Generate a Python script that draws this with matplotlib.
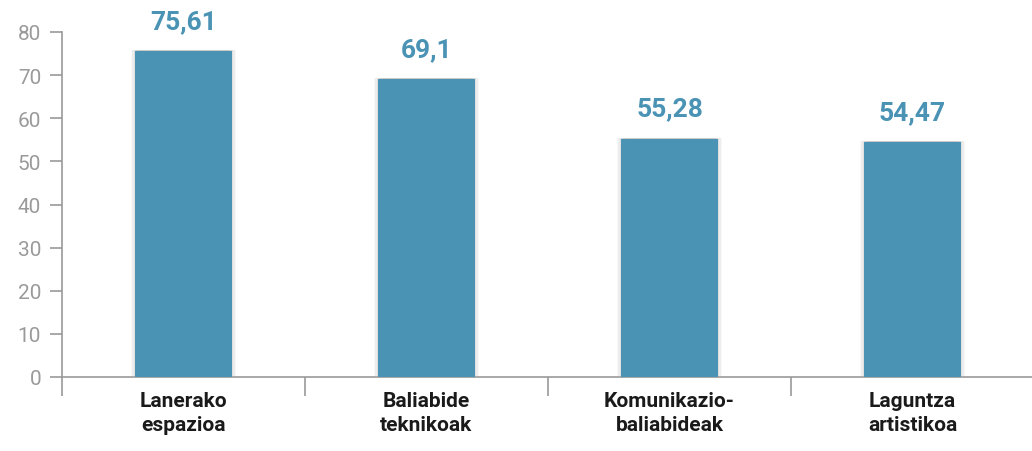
import matplotlib
matplotlib.use("Agg")
import matplotlib.pyplot as plt
from matplotlib import patheffects as pe

categories = ["Lanerako\nespazioa", "Baliabide\nteknikoak", "Komunikazio-\nbaliabideak", "Laguntza\nartistikoa"]
values = [75.61, 69.1, 55.28, 54.47]
value_labels = ["75,61", "69,1", "55,28", "54,47"]
yticks = [0, 10, 20, 30, 40, 50, 60, 70, 80]

fig = plt.figure(figsize=(10.32, 4.52), dpi=100)
ax = fig.add_axes([62/1032, 1-378/452, 972/1032, (378-33)/452])

bar_color = "#4a93b4"
bars = ax.bar(range(len(values)), values, width=0.4, color=bar_color, zorder=3)
shadow = []
for dx, a in [(-3, 0.05), (3, 0.05), (-1.8, 0.08), (1.8, 0.08), (-0.8, 0.1), (0.8, 0.1)]:
    shadow.append(pe.SimplePatchShadow(offset=(dx, 0.5), shadow_rgbFace="#777777", alpha=a))
for b in bars:
    b.set_path_effects(shadow + [pe.Normal()])

for i, (v, lab) in enumerate(zip(values, value_labels)):
    ax.annotate(lab, (i, v), xytext=(0, 13), textcoords="offset points", ha="center", va="bottom",
                fontsize=19, fontweight="bold", color="#4a93b4", family=["Roboto", "DejaVu Sans"])

ax.set_xlim(-0.5, len(values) - 0.5)
ax.set_ylim(0, 80)
ax.set_yticks(yticks)
ax.set_yticklabels([str(t) for t in yticks], fontsize=15, color="#9a9a9a",
                   family=["Roboto", "DejaVu Sans"])
ax.tick_params(axis="y", direction="out", length=9, width=1.2, color="#999999", pad=6)

ax.set_xticks(range(len(values)))
ax.set_xticklabels(categories, fontsize=15, fontweight="bold", color="#1a1a1a", family=["Roboto", "DejaVu Sans"], linespacing=1.35)
ax.tick_params(axis="x", which="major", length=0, pad=10)
ax.set_xticks([i - 0.5 for i in range(len(values) + 1)], minor=True)
ax.tick_params(axis="x", which="minor", direction="out", length=14, width=1.2, color="#999999")

for s in ["top", "right"]:
    ax.spines[s].set_visible(False)
for s in ["left", "bottom"]:
    ax.spines[s].set_color("#999999")
    ax.spines[s].set_linewidth(1.2)

fig.savefig("out.png", dpi=100)
